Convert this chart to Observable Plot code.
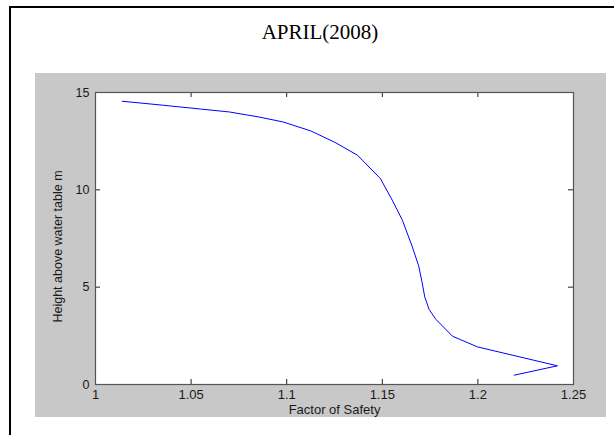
<!DOCTYPE html>
<html><head><meta charset="utf-8">
<script src="https://cdn.jsdelivr.net/npm/d3@7"></script>
<script src="https://cdn.jsdelivr.net/npm/@observablehq/plot@0.6"></script>
<style>
body{margin:0;background:#fff;}
#wrap{position:relative;width:614px;height:435px;overflow:hidden;}
#border{position:absolute;left:9px;top:6px;right:-10px;bottom:-10px;border-left:2px solid #000;border-top:2px solid #000;}
#panel{position:absolute;left:35px;top:73px;width:571px;height:344px;background:#c8c8c8;}
#title{position:absolute;left:0;width:640px;top:22px;text-align:center;font:21px "Liberation Serif","Times New Roman",serif;color:#000;line-height:1;}
#chart{position:absolute;left:0;top:0;}
</style></head>
<body>
<div id="wrap">
  <div id="border"></div>
  <div id="panel"></div>
  <div id="title">APRIL(2008)</div>
  <div id="chart"></div>
</div>
<script>
const titleText = "APRIL(2008)";
const xLabel = "Factor of Safety";
const yLabel = "Height above water table m";
const factorOfSafety = [1.014, 1.035, 1.055, 1.07, 1.085, 1.098, 1.1125, 1.125, 1.137, 1.149, 1.1552, 1.1605, 1.1657, 1.169, 1.1707, 1.1722, 1.1745, 1.178, 1.1867, 1.1998, 1.2416, 1.219];
const heightM =        [14.55, 14.35, 14.15, 14.0, 13.75, 13.49, 13.03, 12.45, 11.78, 10.58, 9.47, 8.44, 7.07, 6.1, 5.3, 4.5, 3.85, 3.35, 2.48, 1.93, 0.96, 0.48];
const xTicks = [1, 1.05, 1.1, 1.15, 1.2, 1.25];
const xTickLabels = ["1", "1.05", "1.1", "1.15", "1.2", "1.25"];
const yTicks = [0, 5, 10, 15];
const yTickLabels = ["0", "5", "10", "15"];

const data = factorOfSafety.map((f, i) => ({fs: f, h: heightM[i]}));
const W = 614, H = 435, mL = 95, mR = 41, mT = 92, mB = 51;
const iw = W - mL - mR, ih = H - mT - mB, tk = 5;

const chart = Plot.plot({
  width: W, height: H,
  marginLeft: mL, marginRight: mR, marginTop: mT, marginBottom: mB,
  style: {background: "transparent", fontFamily: "'Liberation Sans', Arial, sans-serif", fontSize: "12.5px", color: "#1a1a1a"},
  x: {domain: [1, 1.25]},
  y: {domain: [0, 15]},
  marks: [
    Plot.frame({fill: "white"}),
    Plot.line(data, {x: "fs", y: "h", stroke: "#0000ff", strokeWidth: 1}),
    Plot.ruleX(xTicks, {insetTop: ih - tk, stroke: "#222"}),
    Plot.ruleX(xTicks, {insetBottom: ih - tk, stroke: "#222"}),
    Plot.ruleY(yTicks, {insetRight: iw - tk, stroke: "#222"}),
    Plot.ruleY(yTicks, {insetLeft: iw - tk, stroke: "#222"}),
    Plot.frame({stroke: "#555", strokeWidth: 1.2}),
    Plot.axisX(xTicks, {tickSize: 0, tickPadding: 5, tickFormat: (d, i) => xTickLabels[i], label: xLabel, labelAnchor: "center", labelOffset: 29, labelArrow: "none", fontSize: 13}),
    Plot.axisY(yTicks, {tickSize: 0, tickPadding: 6, tickFormat: (d, i) => yTickLabels[i], label: null}),
    Plot.text([yLabel], {frameAnchor: "left", rotate: -90, dx: -38, dy: 8, lineAnchor: "middle", textAnchor: "middle", fill: "#1a1a1a"})
  ]
});
document.getElementById("chart").appendChild(chart);
document.getElementById("title").textContent = titleText;
</script>
</body></html>
